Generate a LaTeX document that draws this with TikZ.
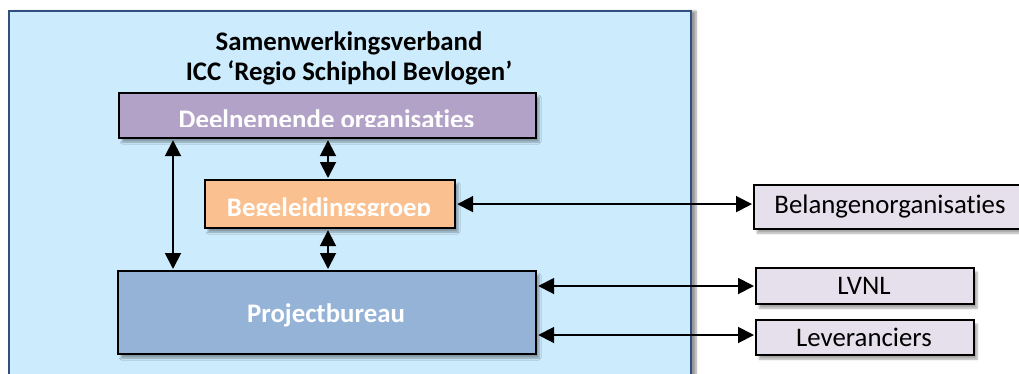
\documentclass[tikz,border=0pt]{standalone}
\usepackage{fontspec}
\setmainfont[Ligatures={NoCommon,NoRare,NoDiscretionary}]{Carlito}
\usetikzlibrary{arrows.meta,shadows.blur}
\definecolor{bgblue}{HTML}{CCEBFD}
\definecolor{bgborder}{HTML}{2E4F80}
\definecolor{purplebox}{HTML}{B3A2C7}
\definecolor{orangebox}{HTML}{FAC090}
\definecolor{bluebox}{HTML}{95B3D7}
\definecolor{lilacbox}{HTML}{E6E0EC}
\tikzset{
  x=1pt, y=-1pt,
  boxstyle/.style={draw=black, line width=2.2pt, rectangle, inner sep=0pt,
    blur shadow={shadow xshift=3pt, shadow yshift=-4pt, shadow blur steps=6, shadow opacity=35}},
  whitetext/.style={anchor=base, text=white, inner sep=0pt, font=\fontsize{26.8}{31}\selectfont\bfseries},
  blacktext/.style={anchor=base, text=black, inner sep=0pt, font=\fontsize{26.8}{31}\selectfont},
  titletext/.style={anchor=base, text=black, inner sep=0pt, font=\fontsize{26.8}{31}\selectfont\bfseries},
  dblarrow/.style={line width=1.9pt, {Triangle[length=16pt,width=16pt]}-{Triangle[length=16pt,width=16pt]}, shorten <=1pt, shorten >=1pt},
}
\begin{document}
\begin{tikzpicture}
\useasboundingbox (0,0) rectangle (1019,373);
% background frame
\node[rectangle, fill=bgblue, draw=bgborder, line width=2pt, minimum width=682pt, minimum height=380pt, anchor=north west,
  blur shadow={shadow xshift=5pt, shadow yshift=0pt, shadow blur steps=8, shadow opacity=40}] (frame) at (8,10) {};
\node[titletext] (title1) at (349,50) {Samenwerkingsverband};
\node[titletext] (title2) at (349,80) {ICC ‘Regio Schiphol Bevlogen’};
% Deelnemende organisaties
\node[boxstyle, fill=purplebox, minimum width=417pt, minimum height=45pt, anchor=north west] (deel) at (118,92) {};
\begin{scope}
\clip (120,94) rectangle (533,126.5);
\node[whitetext] (deeltxt) at (326.5,128) {Deelnemende organisaties};
\end{scope}
% Begeleidingsgroep
\node[boxstyle, fill=orangebox, minimum width=250pt, minimum height=48pt, anchor=north west] (begel) at (204,179) {};
\begin{scope}
\clip (206,181) rectangle (452,215);
\node[whitetext] (begeltxt) at (329,216.5) {Begeleidingsgroep};
\end{scope}
% Projectbureau
\node[boxstyle, fill=bluebox, minimum width=418pt, minimum height=83pt, anchor=north west] (proj) at (117,270) {};
\node[whitetext] (projtxt) at (326,322) {Projectbureau};
% Right boxes
\node[boxstyle, fill=lilacbox, minimum width=266pt, minimum height=44pt, anchor=north west] (belang) at (753,184) {};
\node[blacktext] (belangtxt) at (890,213) {Belangenorganisaties};
\node[boxstyle, fill=lilacbox, minimum width=218pt, minimum height=36pt, anchor=north west] (lvnl) at (755,267) {};
\node[blacktext] (lvnltxt) at (864,294) {LVNL};
\node[boxstyle, fill=lilacbox, minimum width=218pt, minimum height=35pt, anchor=north west] (lev) at (755,319) {};
\node[blacktext] (levtxt) at (864,346) {Leveranciers};
% connectors
\coordinate (a1) at (173,0);
\draw[dblarrow] (deel.south -| a1) -- (proj.north -| a1);
\coordinate (a2) at (328,0);
\draw[dblarrow] (deel.south -| a2) -- (begel.north -| a2);
\draw[dblarrow] (begel.south -| a2) -- (proj.north -| a2);
\draw[dblarrow] (begel.east) -- (begel.east -| belang.west);
\coordinate (b1) at (0,286);
\coordinate (b2) at (0,335);
\draw[dblarrow] (proj.east |- b1) -- (lvnl.west |- b1);
\draw[dblarrow] (proj.east |- b2) -- (lev.west |- b2);
\end{tikzpicture}
\end{document}
